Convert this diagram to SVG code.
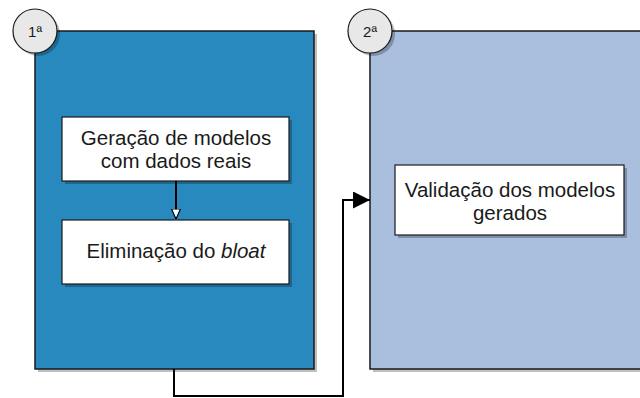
<svg xmlns="http://www.w3.org/2000/svg" width="640" height="398" viewBox="0 0 640 398">
  <style>
    .stage { stroke: #1a1a1a; stroke-width: 1.5; }
    .shadow { fill: #000; opacity: 0.25; }
    .step { fill: #ffffff; stroke: #1a1a1a; stroke-width: 1.2; }
    .badge { fill: #e8e8e8; stroke: #1a1a1a; stroke-width: 1.2; }
    text { font-family: "Liberation Sans", Arial, Helvetica, sans-serif; fill: #1a1a1a; text-anchor: middle; }
    .label { font-size: 20.5px; }
    .num { font-size: 15px; }
    .link { fill: none; stroke: #000; stroke-width: 2; }
  </style>
  <defs>
    <marker id="openTri" viewBox="0 0 10 10" refX="10" refY="5" markerWidth="10" markerHeight="10" markerUnits="userSpaceOnUse" orient="auto">
      <path d="M0,0.5 L10,5 L0,9.5 Z" fill="#ffffff" stroke="#000" stroke-width="1.2"/>
    </marker>
    <marker id="solidTri" viewBox="0 0 10 10" refX="10" refY="5" markerWidth="17" markerHeight="17" markerUnits="userSpaceOnUse" orient="auto">
      <path d="M0,0 L10,5 L0,10 Z" fill="#000"/>
    </marker>
  </defs>
  <rect width="640" height="398" fill="#ffffff"/>

  <!-- stage 1 -->
  <g id="stage1">
    <rect class="shadow" x="38" y="34" width="279" height="338"/>
    <rect class="stage" x="35" y="31" width="279" height="338" fill="#2889be"/>
  </g>

  <!-- stage 2 -->
  <g id="stage2">
    <rect class="shadow" x="373" y="34" width="280" height="338"/>
    <rect class="stage" x="370" y="31" width="280" height="338" fill="#a9bfdd"/>
  </g>

  <g id="badge1">
    <circle cx="38" cy="34" r="22" class="shadow"/>
    <circle cx="35" cy="31" r="22" class="badge"/>
    <text class="num" x="35" y="37">1ª</text>
  </g>

  <g id="badge2">
    <circle cx="373" cy="34" r="22" class="shadow"/>
    <circle cx="370" cy="31" r="22" class="badge"/>
    <text class="num" x="370" y="37">2ª</text>
  </g>

  <g id="gen">
    <rect class="shadow" x="65" y="120" width="227" height="64"/>
    <rect class="step" x="62" y="117" width="227" height="64"/>
    <text class="label" x="176" y="145">Geração de modelos</text>
    <text class="label" x="176" y="168">com dados reais</text>
  </g>

  <g id="bloat">
    <rect class="shadow" x="65" y="223" width="227" height="64"/>
    <rect class="step" x="62" y="220" width="227" height="64"/>
    <text class="label" x="176" y="258">Eliminação do <tspan font-style="italic">bloat</tspan></text>
  </g>

  <g id="valid">
    <rect class="shadow" x="398" y="168" width="229" height="70"/>
    <rect class="step" x="395" y="165" width="229" height="70"/>
    <text class="label" x="510" y="197">Validação dos modelos</text>
    <text class="label" x="510" y="220">gerados</text>
  </g>

  <g id="connectors">
    <path class="link" d="M176,181 V219" stroke-width="1.3" marker-end="url(#openTri)"/>
    <path class="link" d="M174,369 V396 H343 V200 H370" marker-end="url(#solidTri)"/>
  </g>
</svg>
